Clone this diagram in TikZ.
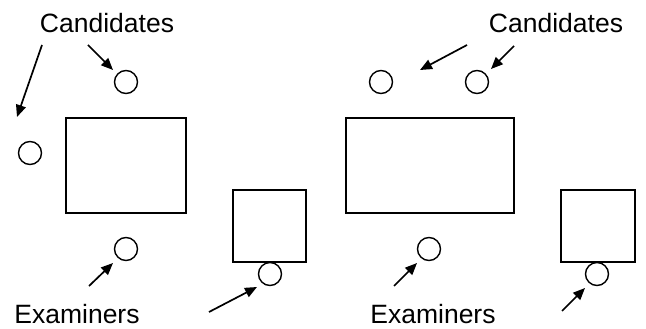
\documentclass[tikz,border=0pt]{standalone}
\usepackage{fontspec}
\setmainfont{Liberation Sans}
\usetikzlibrary{arrows.meta}
\begin{document}
\begin{tikzpicture}[x=1pt,y=-1pt,
  seat/.style={draw,circle,line width=1.4pt,minimum size=23pt,inner sep=0pt},
  desk/.style={draw,line width=1.4pt},
  lbl/.style={font=\fontsize{26.5}{28}\selectfont,inner sep=0pt,anchor=base,text depth=0pt},
  ptr/.style={line width=1.7pt,-{Triangle[length=12pt,width=10pt]}}]
\useasboundingbox (0,0) rectangle (646,329);
% left layout
\node[lbl] (candL) at (107,33) {Candidates};
\node[lbl] (examL) at (77,323.5) {Examiners};
\node[seat] (cL1) at (126,82) {};
\node[seat] (cL2) at (30,153) {};
\node[seat] (eL1) at (126,249) {};
\node[seat] (eL2) at (270,274) {};
\draw[desk] (66,118) rectangle (186,213);
\draw[desk] (233,190) rectangle (306,262);
\coordinate (aL1s) at (42,45); \coordinate (aL1e) at (17,117);
\coordinate (aL2s) at (88,45); \coordinate (aL2e) at (113,70);
\coordinate (aL3s) at (89,286); \coordinate (aL3e) at (113,263);
\coordinate (aL4s) at (209,312); \coordinate (aL4e) at (257,287);
\draw[ptr] (aL1s) -- (aL1e);
\draw[ptr] (aL2s) -- (aL2e);
\draw[ptr] (aL3s) -- (aL3e);
\draw[ptr] (aL4s) -- (aL4e);
% right layout
\node[lbl] (candR) at (556,33) {Candidates};
\node[lbl] (examR) at (433,323.5) {Examiners};
\node[seat] (cR1) at (381,82) {};
\node[seat] (cR2) at (477,82) {};
\node[seat] (eR1) at (429,249) {};
\node[seat] (eR2) at (597,274) {};
\draw[desk] (346,118) rectangle (514,213);
\draw[desk] (561,190) rectangle (635,262);
\coordinate (aR1s) at (467,45); \coordinate (aR1e) at (420,70);
\coordinate (aR2s) at (514,46); \coordinate (aR2e) at (491,69);
\coordinate (aR3s) at (394,286); \coordinate (aR3e) at (417,263);
\coordinate (aR4s) at (562,311); \coordinate (aR4e) at (585,288);
\draw[ptr] (aR1s) -- (aR1e);
\draw[ptr] (aR2s) -- (aR2e);
\draw[ptr] (aR3s) -- (aR3e);
\draw[ptr] (aR4s) -- (aR4e);
\end{tikzpicture}
\end{document}
